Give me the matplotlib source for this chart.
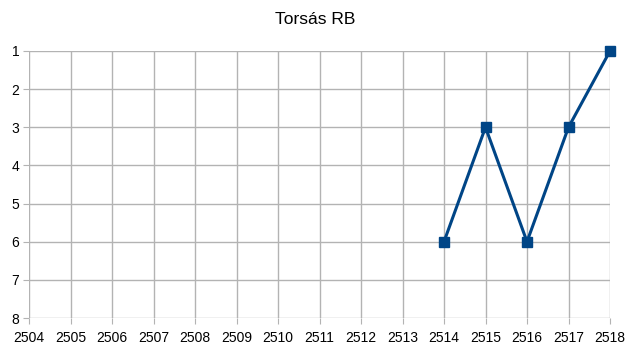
import matplotlib
matplotlib.use("Agg")
import matplotlib.pyplot as plt

plt.rcParams['font.family'] = ['Liberation Sans', 'DejaVu Sans']

# adatok
evek = [2514, 2515, 2516, 2517, 2518]
helyezes = [6, 3, 6, 3, 1]
x_ticks = list(range(2504, 2519))
y_ticks = list(range(1, 9))

fig = plt.figure(figsize=(6.31, 3.55), dpi=100)
ax = fig.add_axes([29 / 631, 1 - 318 / 355, 581 / 631, 267 / 355])

ax.plot(evek, helyezes, color='#004586', linewidth=2.2, marker='s',
        markersize=7, zorder=3, clip_on=False)

ax.set_xlim(2504, 2518)
ax.set_ylim(8, 1)
ax.set_xticks(x_ticks)
ax.set_yticks(y_ticks)
ax.grid(True, color='#b3b3b3', linewidth=1)
for s in ax.spines.values():
    s.set_visible(False)
ax.tick_params(axis='both', length=4, color='#b3b3b3', labelsize=10, pad=3)
ax.tick_params(axis='x', pad=5)

fig.text(0.5, 1 - 20 / 355, 'Torsás RB', ha='center', va='center', fontsize=12.5)

fig.savefig('out.png', dpi=100)
